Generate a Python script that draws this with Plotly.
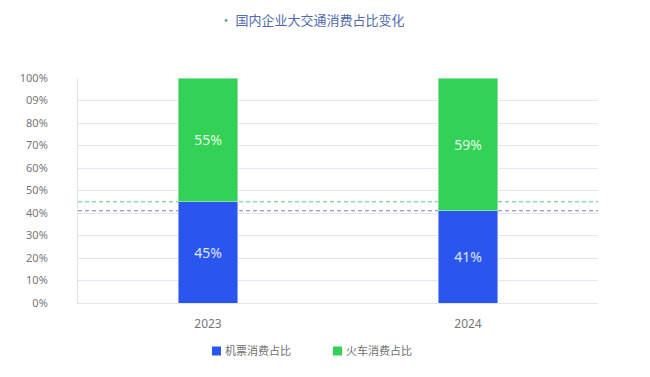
import plotly.graph_objects as go

categories = ["2023", "2024"]
flight_share = [45, 41]
train_share = [55, 59]
series_names = ["机票消费占比", "火车消费占比"]
tick_values = [0, 10, 20, 30, 40, 50, 60, 70, 80, 90, 100]
tick_labels = ["0%", "10%", "20%", "30%", "40%", "50%", "60%", "70%", "80%", "09%", "100%"]

BLUE = "#2a55ef"
GREEN = "#34d157"

fig = go.Figure()
fig.add_trace(go.Bar(
    x=categories, y=flight_share, name=series_names[0], marker_color=BLUE,
    text=[f"{v}%" for v in flight_share], textposition="inside", insidetextanchor="middle",
    textfont=dict(color="#dfe6ff", size=14), width=0.23, showlegend=False,
))
fig.add_trace(go.Bar(
    x=categories, y=train_share, name=series_names[1], marker_color=GREEN,
    text=[f"{v}%" for v in train_share], textposition="inside", insidetextanchor="middle",
    textfont=dict(color="#e3fbe6", size=14), width=0.23, showlegend=False,
))

# reference dashed lines at the flight shares
fig.add_hline(y=flight_share[0], line=dict(color="#4fd072", width=1, dash="4px,3px"), layer="below")
fig.add_hline(y=flight_share[1], line=dict(color="#6f83c6", width=1, dash="4px,3px"), layer="below")

# custom legend (small squares with tight text)
legend_items = [(series_names[0], BLUE, 0.2577), (series_names[1], GREEN, 0.4904)]
for name, col, x0 in legend_items:
    fig.add_shape(type="rect", xref="paper", yref="paper",
                  x0=x0, x1=x0 + 0.0173, y0=-0.2133 - 0.02, y1=-0.2133 + 0.02,
                  fillcolor=col, line=dict(width=0))
    fig.add_annotation(text=name, xref="paper", yref="paper", x=x0 + 0.021, y=-0.2133,
                       xanchor="left", yanchor="middle", showarrow=False,
                       font=dict(size=11, color="#6f6f6f"))

fig.update_layout(
    barmode="stack",
    width=642, height=369,
    margin=dict(l=70, r=52, t=70, b=74),
    paper_bgcolor="white", plot_bgcolor="white",
    font=dict(family="Noto Sans, Noto Sans CJK SC, sans-serif", color="#777777", size=11),
    title=dict(text="<span style='color:#4fae8a'>·</span> 国内企业大交通消费占比变化", x=0.4735, xanchor="center",
               y=0.967, yanchor="middle",
               font=dict(size=13, color="#5169ad", family="Noto Sans CJK SC, sans-serif")),
    showlegend=False,
    bargap=0.77,
)
fig.update_xaxes(showgrid=False, showline=True, linecolor="#e2e4ee", ticks="",
                 tickfont=dict(size=12, color="#777777"), ticklabelstandoff=10)
fig.update_yaxes(range=[0, 100], tickvals=tick_values, ticktext=tick_labels,
                 showgrid=True, gridcolor="#e3e5f3", showline=True, linecolor="#e2e4ee",
                 zeroline=False, ticks="", tickfont=dict(size=11, color="#777777"),
                 ticklabelstandoff=27)

fig.write_html("out.html")
